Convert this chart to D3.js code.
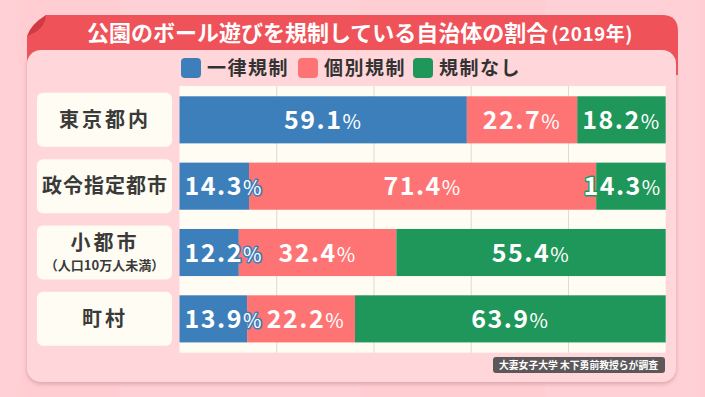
<!DOCTYPE html>
<html>
<head>
<meta charset="utf-8">
<script src="https://cdn.jsdelivr.net/npm/d3@7"></script>
<style>
  body { margin: 0; background: #ffcdd2; }
  svg { display: block; }
  text { font-family: "Noto Sans CJK JP", "Noto Sans", sans-serif; }
</style>
</head>
<body>
<svg id="chart"></svg>
<script>
var width = 705;
var height = 397;

// data
var categories = ['東京都内', '政令指定都市', '小都市', '町村'];
var subLabels = ['', '', '（人口10万人未満）', ''];
var seriesNames = ['一律規制', '個別規制', '規制なし'];
var uniformRule = [59.1, 14.3, 12.2, 13.9];
var individualRule = [22.7, 71.4, 32.4, 22.2];
var noRule = [18.2, 14.3, 55.4, 63.9];
var gridTicks = [20, 40, 60, 80];
var colors = ['#3d7fbb', '#fe7474', '#1f965a'];

var rows = categories.map(function(c, i) {
  return {
    category: c,
    sub: subLabels[i],
    '一律規制': uniformRule[i],
    '個別規制': individualRule[i],
    '規制なし': noRule[i]
  };
});

var plot = { left: 179.5, right: 665.7, top: 86, bottom: 352.7 };

var svg = d3.select('#chart').attr('width', width).attr('height', height);
var defs = svg.append('defs');
var shadow = defs.append('filter').attr('id', 'shadow')
  .attr('x', '-5%').attr('y', '-5%').attr('width', '110%').attr('height', '115%');
shadow.append('feDropShadow').attr('dx', 0).attr('dy', 2).attr('stdDeviation', 2)
  .attr('flood-color', '#b07078').attr('flood-opacity', 0.45);

// background tiles
svg.append('rect').attr('width', width).attr('height', height).attr('fill', '#ffcdd2');
var tileX = [0, 20, 120, 360, 545, 700];
svg.selectAll('.tile').data(tileX.slice(0, -1)).enter().append('rect')
  .attr('x', function(d) { return d; })
  .attr('y', 0)
  .attr('width', function(d, i) { return tileX[i + 1] - d; })
  .attr('height', height)
  .attr('fill', '#fff')
  .attr('opacity', function(d, i) { return i % 2 === 0 ? 0.08 : 0; });

// card title bar
var card = svg.append('g');
card.append('path')
  .attr('d', 'M27,36 L46,15 L662,15 Q678,15 678,31 L678,75 L27,75 Z')
  .attr('fill', '#f05259');
card.append('path')
  .attr('d', 'M27,36 Q31,24 46,15 Q45,30 27,36 Z')
  .attr('fill', '#d23a43');
card.append('rect')
  .attr('x', 27).attr('y', 50).attr('width', 649).attr('height', 332)
  .attr('rx', 14)
  .attr('fill', '#ffd6d9')
  .attr('filter', 'url(#shadow)');

var title = card.append('text')
  .attr('x', 360).attr('y', 41)
  .attr('text-anchor', 'middle')
  .attr('fill', '#fff')
  .attr('font-weight', 700);
title.append('tspan').attr('font-size', 22).text('公園のボール遊びを規制している自治体の割合');
title.append('tspan').attr('font-size', 19).attr('dx', 3).attr('letter-spacing', 0.5).text('(2019年)');

// legend
var legendX = [181, 298, 413];
var legend = svg.append('g').selectAll('g').data(seriesNames).enter().append('g')
  .attr('transform', function(d, i) { return 'translate(' + legendX[i] + ',58)'; });
legend.append('rect')
  .attr('width', 20).attr('height', 20).attr('rx', 4)
  .attr('fill', function(d, i) { return colors[i]; });
legend.append('text')
  .attr('x', 26).attr('y', 17)
  .attr('font-size', 19).attr('font-weight', 700)
  .attr('letter-spacing', 1.5)
  .attr('fill', '#333')
  .text(function(d) { return d; });

// scales
var x = d3.scaleLinear().domain([0, 100]).range([plot.left, plot.right]);
var y = d3.scaleBand().domain(categories).range([plot.top, plot.bottom])
  .paddingInner(0.29).paddingOuter(0.155);
var color = d3.scaleOrdinal().domain(seriesNames).range(colors);

// plot background + grid
svg.append('rect')
  .attr('x', plot.left).attr('y', plot.top)
  .attr('width', plot.right - plot.left).attr('height', plot.bottom - plot.top)
  .attr('fill', '#fffdf3');
svg.append('g').selectAll('line').data(gridTicks).enter().append('line')
  .attr('x1', function(d) { return x(d); })
  .attr('x2', function(d) { return x(d); })
  .attr('y1', plot.top).attr('y2', plot.bottom)
  .attr('stroke', '#dcdad2').attr('stroke-width', 1);

// category boxes
var cat = svg.append('g').selectAll('g').data(rows).enter().append('g')
  .attr('transform', function(d) { return 'translate(0,' + (y(d.category) + y.bandwidth() / 2) + ')'; });
cat.append('rect')
  .attr('x', 37).attr('y', -27).attr('width', 135).attr('height', 54).attr('rx', 6)
  .attr('fill', '#fffdf3');
cat.append('text')
  .attr('x', 105)
  .attr('y', function(d) { return d.sub ? -3 : 7; })
  .attr('text-anchor', 'middle')
  .attr('font-size', 20).attr('font-weight', 700)
  .attr('letter-spacing', function(d) { return d.category.length <= 4 ? 3 : 1; })
  .attr('fill', '#3a3a3a')
  .text(function(d) { return d.category; });
cat.filter(function(d) { return d.sub; }).append('text')
  .attr('x', 104.5).attr('y', 17)
  .attr('text-anchor', 'middle')
  .attr('font-size', 13).attr('font-weight', 700)
  .attr('fill', '#3a3a3a')
  .text(function(d) { return d.sub; });

// stacked bars
var stacked = d3.stack().keys(seriesNames)(rows);
var layers = svg.append('g').selectAll('g').data(stacked).enter().append('g')
  .attr('fill', function(d) { return color(d.key); });
layers.selectAll('rect').data(function(d) { return d; }).enter().append('rect')
  .attr('x', function(d) { return x(d[0]); })
  .attr('y', function(d) { return y(d.data.category); })
  .attr('width', function(d) { return x(d[1]) - x(d[0]); })
  .attr('height', y.bandwidth());

// value labels
var labelGroup = svg.append('g');
rows.forEach(function(row) {
  var labels = [];
  stacked.forEach(function(layer) {
    var seg = layer[categories.indexOf(row.category)];
    var t = labelGroup.append('text')
      .attr('y', y(row.category) + y.bandwidth() / 2 + 9)
      .attr('fill', '#fff')
      .attr('stroke', color(layer.key))
      .attr('stroke-width', 3)
      .attr('stroke-linejoin', 'round')
      .attr('paint-order', 'stroke')
      .attr('font-weight', 600)
      .attr('letter-spacing', 1.5);
    t.append('tspan').attr('font-size', 25).text(seg.data[layer.key].toFixed(1));
    t.append('tspan').attr('font-size', 20).attr('font-weight', 400).text('%');
    var w = t.node().getComputedTextLength();
    var cx = (x(seg[0]) + x(seg[1])) / 2;
    labels.push({ node: t, w: w, x: cx - w / 2 });
  });
  // keep labels inside the plot and apart from each other
  var minX = plot.left + 5;
  labels.forEach(function(l) {
    if (l.x < minX) l.x = minX;
    minX = l.x + l.w + 4;
  });
  var maxX = plot.right - 4;
  for (var i = labels.length - 1; i >= 0; i--) {
    if (labels[i].x + labels[i].w > maxX) labels[i].x = maxX - labels[i].w;
    maxX = labels[i].x - 4;
  }
  labels.forEach(function(l) { l.node.attr('x', l.x); });
});

// source note
var note = svg.append('g').attr('transform', 'translate(493,357)');
note.append('rect').attr('width', 172).attr('height', 16).attr('rx', 3)
  .attr('fill', '#4a4a4a').attr('opacity', 0.9);
note.append('text').attr('x', 6).attr('y', 12)
  .attr('font-size', 9.8).attr('font-weight', 700).attr('fill', '#fff')
  .text('大妻女子大学 木下勇前教授らが調査');
</script>
</body>
</html>
